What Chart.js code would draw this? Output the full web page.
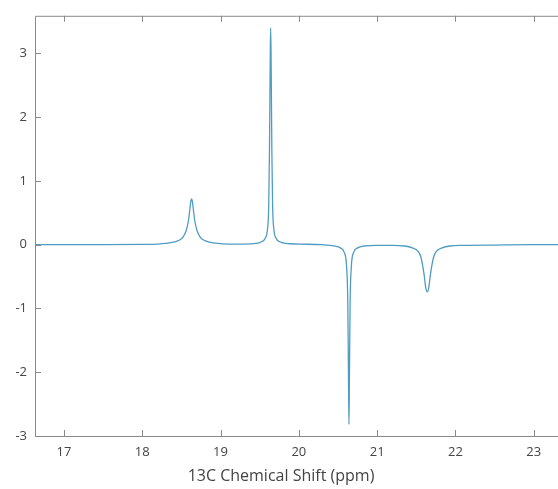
<!DOCTYPE html>
<html lang="en">
<head>
  <meta charset="UTF-8" />
  <title>13C spectrum</title>
  <script src="https://cdn.jsdelivr.net/npm/chart.js"></script>
  <style>
    html, body { margin: 0; padding: 0; background: #fff; }
    #wrap { width: 558px; height: 489px; }
  </style>
</head>
<body>
  <div id="wrap"><canvas id="spectre"></canvas></div>

  <script>
    // chemical shift (ppm) and intensity
    const shift = [
      16.63, 17.5, 18.0, 18.2, 18.3, 18.4, 18.47, 18.52, 18.56, 18.59, 18.61, 18.62, 18.63,
      18.64, 18.65, 18.67, 18.70, 18.74, 18.79, 18.86, 18.96, 19.1, 19.3, 19.45, 19.53, 19.57,
      19.6, 19.615, 19.625, 19.635, 19.64, 19.645, 19.655, 19.665, 19.68, 19.71, 19.75, 19.83,
      20.0, 20.3, 20.45, 20.53, 20.58, 20.61, 20.625, 20.635, 20.64, 20.645, 20.655, 20.67,
      20.7, 20.75, 20.83, 21.0, 21.2, 21.35, 21.45, 21.52, 21.56, 21.6, 21.62, 21.64, 21.66,
      21.68, 21.72, 21.76, 21.83, 21.93, 22.1, 22.5, 23.0, 23.31
    ];
    const intensite = [
      0, 0, 0.005, 0.01, 0.02, 0.04, 0.07, 0.12, 0.22, 0.38, 0.58, 0.68, 0.72,
      0.68, 0.58, 0.38, 0.22, 0.12, 0.07, 0.04, 0.02, 0.01, 0.01, 0.02, 0.05, 0.1,
      0.25, 0.6, 1.5, 3.0, 3.40, 3.0, 1.5, 0.6, 0.25, 0.1, 0.05, 0.02,
      0.01, 0, -0.02, -0.05, -0.12, -0.35, -0.9, -2.2, -2.82, -2.2, -0.9, -0.35,
      -0.12, -0.05, -0.02, -0.01, -0.01, -0.02, -0.05, -0.1, -0.2, -0.47, -0.67, -0.74, -0.67,
      -0.47, -0.2, -0.1, -0.05, -0.02, -0.01, -0.005, 0, 0
    ];
    const xTicks = [17, 18, 19, 20, 21, 22, 23];
    const yTicks = [-3, -2, -1, 0, 1, 2, 3];
    const titreX = '13C Chemical Shift (ppm)';

    const police = "'Open Sans', sans-serif";
    const gris = '#8a8a8a';

    // cadre et petits traits vers l'interieur, comme sur l'original
    const cadre = {
      id: 'cadre',
      afterDraw(chart) {
        const { ctx, chartArea: a, scales: { x, y } } = chart;
        ctx.save();
        ctx.strokeStyle = gris;
        ctx.lineWidth = 1;
        ctx.beginPath();
        ctx.moveTo(a.right, a.top + 0.5);
        ctx.lineTo(a.left + 0.5, a.top + 0.5);
        ctx.lineTo(a.left + 0.5, a.bottom + 0.5);
        ctx.lineTo(a.right, a.bottom + 0.5);
        xTicks.forEach(v => {
          const px = Math.round(x.getPixelForValue(v)) + 0.5;
          ctx.moveTo(px, a.top); ctx.lineTo(px, a.top + 6);
          ctx.moveTo(px, a.bottom); ctx.lineTo(px, a.bottom - 6);
        });
        yTicks.forEach(v => {
          const py = Math.round(y.getPixelForValue(v)) + 0.5;
          ctx.moveTo(a.left, py); ctx.lineTo(a.left + 6, py);
        });
        ctx.stroke();
        ctx.fillStyle = '#444';
        ctx.font = '16px ' + police;
        ctx.textAlign = 'center';
        ctx.textBaseline = 'middle';
        ctx.fillText(titreX, 281, 476);
        ctx.restore();
      }
    };

    new Chart(document.getElementById('spectre'), {
      type: 'scatter',
      data: {
        datasets: [{
          data: shift.map((v, i) => ({ x: v, y: intensite[i] })),
          showLine: true,
          borderColor: '#4f9cc3',
          borderWidth: 1.3,
          pointRadius: 0,
          cubicInterpolationMode: 'monotone'
        }]
      },
      options: {
        responsive: true,
        maintainAspectRatio: false,
        animation: false,
        layout: { padding: { top: 14, right: 0, left: 0, bottom: 0 } },
        plugins: { legend: { display: false }, tooltip: { enabled: false } },
        scales: {
          x: {
            type: 'linear',
            min: 16.63,
            max: 23.31,
            afterBuildTicks: s => { s.ticks = xTicks.map(v => ({ value: v })); },
            afterFit: s => { s.height = 53; },
            grid: { display: false, drawTicks: false },
            border: { display: false },
            ticks: { color: '#444', font: { family: police, size: 13 }, padding: 8, maxRotation: 0 }
          },
          y: {
            min: -3,
            max: 3.59,
            afterBuildTicks: s => { s.ticks = yTicks.map(v => ({ value: v })); },
            afterFit: s => { s.width = 35; },
            grid: { display: false, drawTicks: false },
            border: { display: false },
            ticks: { color: '#444', font: { family: police, size: 13 }, padding: 8 }
          }
        }
      },
      plugins: [cadre]
    });
  </script>
</body>
</html>
